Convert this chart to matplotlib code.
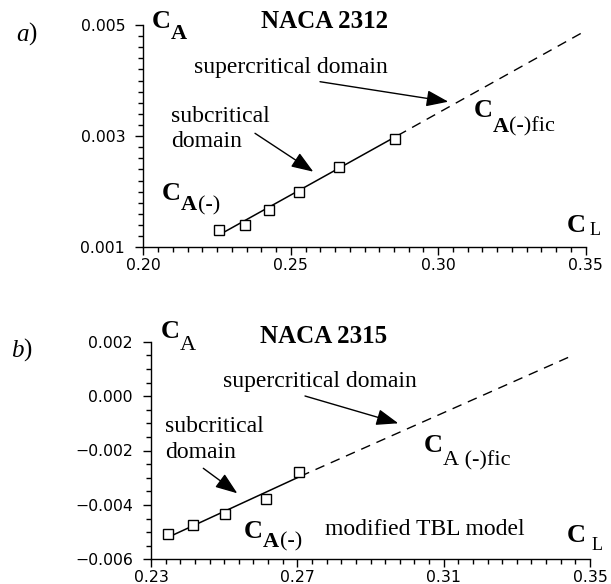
import numpy as np
import matplotlib
matplotlib.use("Agg")
import matplotlib.pyplot as plt
from matplotlib.ticker import FixedLocator, MultipleLocator
from matplotlib.patches import ArrowStyle

# ---------------- data ----------------
# Panel a: NACA 2312
a_cl = [0.2257, 0.2346, 0.2427, 0.2529, 0.2664, 0.2854]
a_ca = [0.00131, 0.00140, 0.00167, 0.00200, 0.00244, 0.00294]
a_fit_solid_x = [0.2266, 0.2862]
a_fit_solid_y = [0.00125, 0.00301]
a_fit_dash_x = [0.2862, 0.3484]
a_fit_dash_y = [0.00301, 0.00485]
a_xticks = [0.20, 0.25, 0.30, 0.35]
a_xticklabels = ["0.20", "0.25", "0.30", "0.35"]
a_yticks = [0.001, 0.003, 0.005]
a_yticklabels = ["0.001", "0.003", "0.005"]

# Panel b: NACA 2315
b_cl = [0.2347, 0.2414, 0.2503, 0.2614, 0.2704]
b_ca = [-0.00508, -0.00475, -0.00432, -0.00379, -0.00279]
b_fit_solid_x = [0.2350, 0.2708]
b_fit_solid_y = [-0.00517, -0.00295]
b_fit_dash_x = [0.2708, 0.3455]
b_fit_dash_y = [-0.00295, 0.00151]
b_xticks = [0.23, 0.27, 0.31, 0.35]
b_xticklabels = ["0.23", "0.27", "0.31", "0.35"]
b_yticks = [-0.006, -0.004, -0.002, 0.000, 0.002]
b_yticklabels = ["\u22120.006", "\u22120.004", "\u22120.002", "0.000", "0.002"]

# ---------------- figure ----------------
W, H = 611, 584
fig = plt.figure(figsize=(W / 100, H / 100), dpi=100)

SERIF = "Liberation Serif"
TICKFONT = "DejaVu Sans"
TICKSIZE = 11.3
CSIZE = 19
SUBSIZE = 16
TEXTSIZE = 17


def F(px, py):
    return (px / W, 1 - py / H)


def make_axes(l, r, b, t):
    ax = fig.add_axes([l / W, 1 - b / H, (r - l) / W, (b - t) / H])
    ax.patch.set_visible(False)
    for s in ("top", "right"):
        ax.spines[s].set_visible(False)
    for s in ("left", "bottom"):
        ax.spines[s].set_linewidth(1.0)
    ax.tick_params(which="major", direction="out", length=6, width=1.0)
    ax.tick_params(which="minor", direction="out", length=3.6, width=1.0)
    ax.tick_params(axis="y", which="major", pad=7)
    ax.tick_params(axis="x", which="major", pad=2)
    return ax


def style_ticklabels(ax):
    for lab in ax.get_xticklabels() + ax.get_yticklabels():
        lab.set_fontfamily(TICKFONT)
        lab.set_fontsize(TICKSIZE)


def plot_panel(ax, cl, ca, sx, sy, dx, dy):
    ax.plot(sx, sy, color="black", lw=1.1, solid_capstyle="butt")
    ax.plot(dx, dy, color="black", lw=1.0, linestyle=(0, (7, 5)))
    ax.plot(cl, ca, linestyle="none", marker="s", ms=6.8, mfc="white",
            mec="black", mew=1.0, zorder=3)


def txt(px, py, s, size=TEXTSIZE, weight="normal", style="normal"):
    return fig.text(*F(px, py), s, fontsize=size, fontweight=weight,
                    fontstyle=style, family=SERIF, ha="left", va="baseline")


def chain(ax, prev, s, py, size=SUBSIZE, weight="normal", style="normal", gap=0):
    return ax.annotate(s, xy=(1, 1 - py / H),
                       xycoords=(prev, "figure fraction"),
                       xytext=(gap, 0), textcoords="offset points",
                       fontsize=size, fontweight=weight, fontstyle=style,
                       family=SERIF, ha="left", va="baseline",
                       annotation_clip=False, clip_on=False)


def arrow(ax, x0, y0, x1, y1):
    ax.annotate("", xy=F(x1, y1), xycoords="figure fraction",
                xytext=F(x0, y0), textcoords="figure fraction",
                arrowprops=dict(arrowstyle=ArrowStyle("-|>", head_length=1.35,
                                                      head_width=0.5),
                                mutation_scale=10, lw=1.0, color="black",
                                shrinkA=0, shrinkB=0, clip_on=False),
                annotation_clip=False, clip_on=False)


# ---- panel a ----
axa = make_axes(143.3, 585.7, 247.3, 25)
plot_panel(axa, a_cl, a_ca, a_fit_solid_x, a_fit_solid_y, a_fit_dash_x, a_fit_dash_y)
axa.set_xlim(0.20, 0.35)
axa.set_ylim(0.001, 0.005)
axa.set_xticks(a_xticks, a_xticklabels)
axa.set_yticks(a_yticks, a_yticklabels)
axa.xaxis.set_minor_locator(MultipleLocator(0.005))
axa.yaxis.set_minor_locator(MultipleLocator(0.0002))
style_ticklabels(axa)

# ---- panel b ----
axb = make_axes(151, 590, 559.3, 341.7)
plot_panel(axb, b_cl, b_ca, b_fit_solid_x, b_fit_solid_y, b_fit_dash_x, b_fit_dash_y)
axb.set_xlim(0.23, 0.35)
axb.set_ylim(-0.006, 0.002)
axb.set_xticks(b_xticks, b_xticklabels)
axb.set_yticks(b_yticks, b_yticklabels)
axb.xaxis.set_minor_locator(FixedLocator(np.linspace(0.23, 0.35, 31)))
axb.yaxis.set_minor_locator(MultipleLocator(0.0005))
style_ticklabels(axb)

# ---- annotations panel a ----
t = txt(16, 41, "a", size=18, style="italic")
chain(axa, t, ")", 41, size=18)
t = txt(152, 27.5, "C", size=CSIZE, weight="bold")
chain(axa, t, "A", 39, weight="bold", gap=0)
txt(261, 28.5, "NACA 2312", size=18, weight="bold")
txt(194, 72.5, "supercritical domain")
arrow(axa, 320, 81.7, 448.3, 101.7)
txt(171, 121.7, "subcritical")
txt(171, 146.7, "domain")
arrow(axa, 255, 133.3, 313.3, 171.7)
t = txt(162, 200, "C", size=CSIZE, weight="bold")
t = chain(axa, t, "A", 210, weight="bold", gap=0)
chain(axa, t, "(-)", 210, gap=0.5)
t = txt(474, 116.7, "C", size=CSIZE, weight="bold")
t = chain(axa, t, "A", 131.7, weight="bold", gap=0)
chain(axa, t, "(-)fic", 131.7)
txt(567, 231.7, "C", size=CSIZE, weight="bold")
txt(590, 235, "L", size=13)

# ---- annotations panel b ----
t = txt(11, 356.7, "b", size=18, style="italic")
chain(axb, t, ")", 356.7, size=18)
t = txt(160.7, 338, "C", size=CSIZE, weight="bold")
chain(axb, t, "A", 350, gap=0)
txt(260, 343.3, "NACA 2315", size=18, weight="bold")
txt(222.7, 386.7, "supercritical domain")
arrow(axb, 305, 396, 398.3, 423.3)
txt(165, 431.7, "subcritical")
txt(165, 458.3, "domain")
arrow(axb, 203.3, 468.3, 237.3, 493.3)
t = txt(244, 538, "C", size=CSIZE, weight="bold")
t = chain(axb, t, "A", 546.7, weight="bold", gap=0)
chain(axb, t, "(-)", 546.7, gap=0.5)
t = txt(424, 451.7, "C", size=CSIZE, weight="bold")
t = chain(axb, t, "A", 465, gap=0)
chain(axb, t, " (-)fic", 465)
txt(325, 535, "modified TBL model")
txt(567, 541.7, "C", size=CSIZE, weight="bold")
txt(591.7, 550, "L", size=13)

fig.savefig("out.png", dpi=100)
